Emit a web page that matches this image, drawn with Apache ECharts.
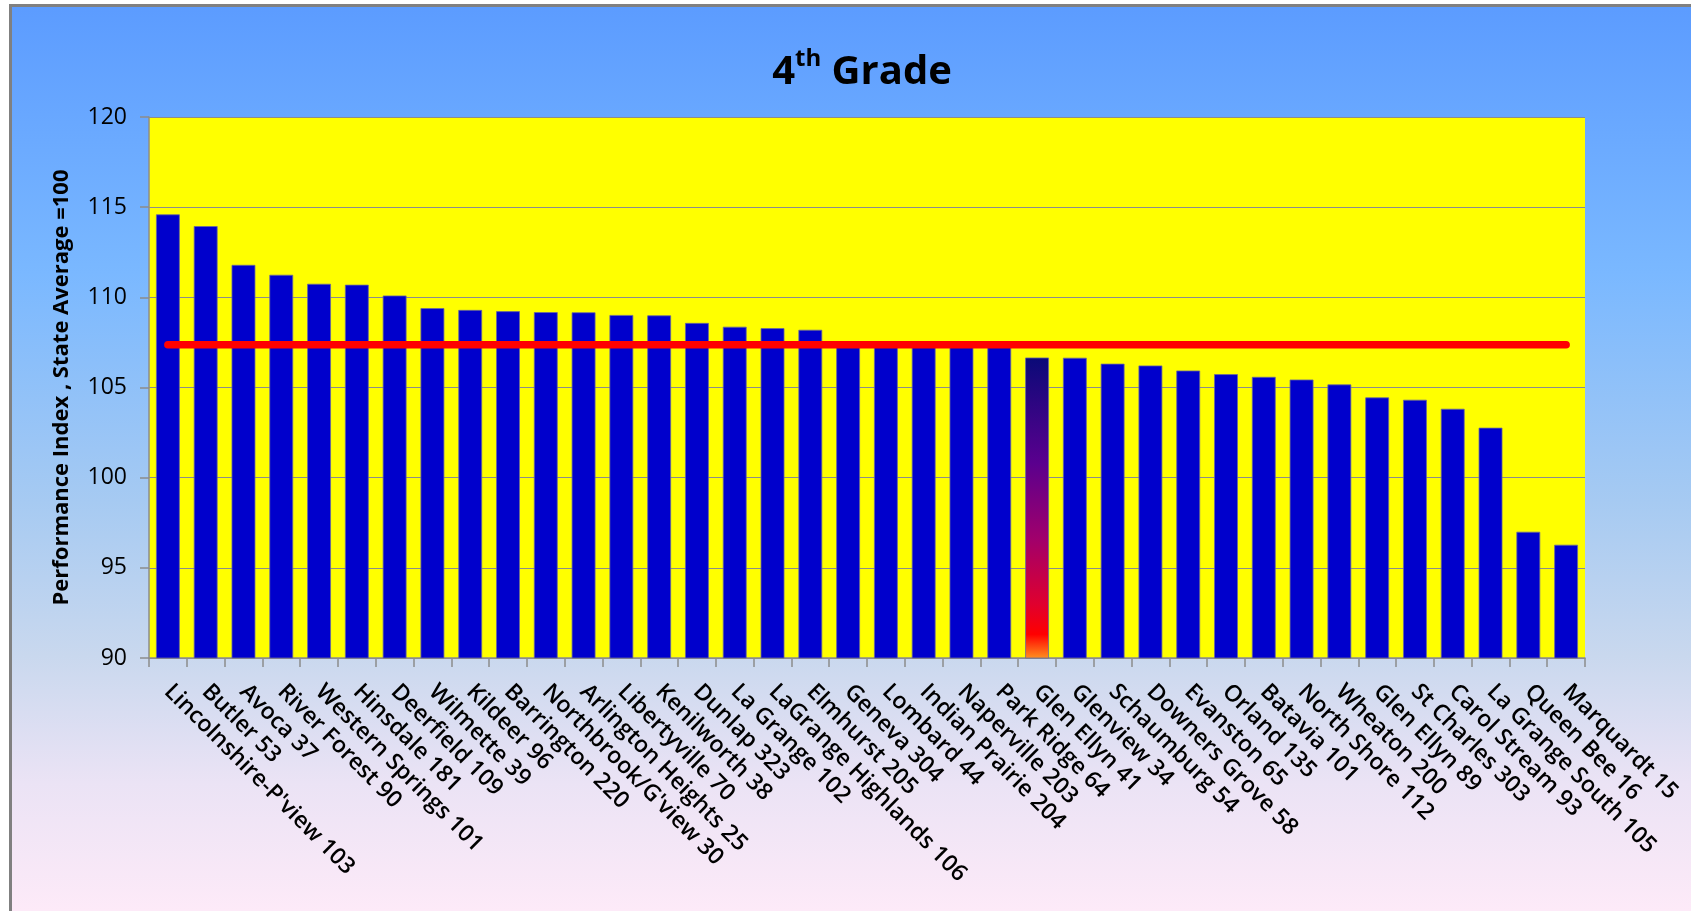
<!DOCTYPE html>
<html>
<head>
<meta charset="utf-8">
<script src="https://cdn.jsdelivr.net/npm/echarts@6/dist/echarts.min.js"></script>
<style>
html,body{margin:0;padding:0;background:#fff;}
#chart{width:1691px;height:911px;}
</style>
</head>
<body>
<div id="chart"></div>
<script>
const titleMain = '4';
const titleSup = 'th';
const titleRest = ' Grade';
const yAxisTitle = 'Performance Index , State Average =100';
const categories = [
  'Lincolnshire-P\'view 103','Butler 53','Avoca 37','River Forest 90','Western Springs 101',
  'Hinsdale 181','Deerfield 109','Wilmette 39','Kildeer 96','Barrington 220',
  'Northbrook/G\'view 30','Arlington Heights 25','Libertyville 70','Kenilworth 38','Dunlap 323',
  'La Grange 102','LaGrange Highlands 106','Elmhurst 205','Geneva 304','Lombard 44',
  'Indian Prairie 204','Naperville 203','Park Ridge 64','Glen Ellyn 41','Glenview 34',
  'Schaumburg 54','Downers Grove 58','Evanston 65','Orland 135','Batavia 101',
  'North Shore 112','Wheaton 200','Glen Ellyn 89','St Charles 303','Carol Stream 93',
  'La Grange South 105','Queen Bee 16','Marquardt 15'
];
const performanceIndex = [
  114.6,113.95,111.8,111.25,110.75,
  110.7,110.1,109.4,109.3,109.23,
  109.18,109.17,109.02,109.0,108.58,
  108.37,108.29,108.2,107.5,107.45,
  107.4,107.35,107.3,106.66,106.65,
  106.32,106.22,105.94,105.74,105.59,
  105.44,105.17,104.45,104.32,103.82,
  102.77,97.0,96.28
];
const averageLine = [
  107.37,107.37,107.37,107.37,107.37,107.37,107.37,107.37,107.37,107.37,
  107.37,107.37,107.37,107.37,107.37,107.37,107.37,107.37,107.37,107.37,
  107.37,107.37,107.37,107.37,107.37,107.37,107.37,107.37,107.37,107.37,
  107.37,107.37,107.37,107.37,107.37,107.37,107.37,107.37
];
const highlightCategory = 'Glen Ellyn 41';
const yTicks = {min: 90, max: 120, interval: 5};

const chart = echarts.init(document.getElementById('chart'), null, {renderer: 'canvas'});
const FONT = 'Open Sans';

const barData = performanceIndex.map((v, i) => {
  if (categories[i] === highlightCategory) {
    return {
      value: v,
      itemStyle: {
        color: new echarts.graphic.LinearGradient(0, 0, 0, 1, [
          {offset: 0, color: '#0a0a78'},
          {offset: 0.35, color: '#5a008e'},
          {offset: 0.6, color: '#a0006c'},
          {offset: 0.82, color: '#e0002e'},
          {offset: 0.92, color: '#ff0000'},
          {offset: 1, color: '#ff9020'}
        ])
      }
    };
  }
  return v;
});

const option = {
  backgroundColor: new echarts.graphic.LinearGradient(0, 0, 0, 1, [
    {offset: 0, color: '#5b9bff'},
    {offset: 0.3, color: '#7ab8ff'},
    {offset: 0.55, color: '#a6caf2'},
    {offset: 0.72, color: '#c9d8ee'},
    {offset: 0.86, color: '#ebe3f5'},
    {offset: 1, color: '#fdeaf8'}
  ]),
  animation: false,
  graphic: [
    {type: 'rect', shape: {x: 0, y: 0, width: 9, height: 911}, style: {fill: '#ffffff'}, z: 100},
    {type: 'rect', shape: {x: 0, y: 0, width: 1691, height: 4}, style: {fill: '#ffffff'}, z: 100},
    {type: 'rect', shape: {x: 9, y: 4, width: 3, height: 907}, style: {fill: '#808080'}, z: 101},
    {type: 'rect', shape: {x: 9, y: 4, width: 1682, height: 3}, style: {fill: '#808080'}, z: 101}
  ],
  title: {
    left: 857,
    top: 38,
    textAlign: 'center',
    text: '{a|' + titleMain + '}{b|' + titleSup + '}{a|' + titleRest + '}',
    textStyle: {
      rich: {
        a: {fontFamily: FONT, fontWeight: 'bold', fontSize: 40, color: '#000', lineHeight: 50, verticalAlign: 'bottom'},
        b: {fontFamily: FONT, fontWeight: 'bold', fontSize: 24, color: '#000', lineHeight: 50, verticalAlign: 'top', padding: [4, 0, 0, 0]}
      }
    }
  },
  grid: {left: 149, right: 106, top: 117, bottom: 253, containLabel: false,
    show: true, backgroundColor: '#ffff00', borderWidth: 0},
  xAxis: {
    type: 'category',
    data: categories,
    axisLine: {lineStyle: {color: '#8c8c8c', width: 1.5}},
    axisTick: {show: true, length: 9, lineStyle: {color: '#8c8c8c', width: 1.5}},
    axisLabel: {rotate: -45, margin: 30, interval: 0, color: '#000', fontFamily: FONT, fontSize: 23, fontWeight: 600}
  },
  yAxis: {
    type: 'value',
    min: yTicks.min, max: yTicks.max, interval: yTicks.interval,
    name: yAxisTitle,
    nameLocation: 'middle',
    nameRotate: 90,
    nameGap: 76,
    nameTextStyle: {fontFamily: FONT, fontWeight: 'bold', fontSize: 22, color: '#000'},
    axisLine: {show: true, lineStyle: {color: '#8c8c8c', width: 1.5}},
    axisTick: {show: true, length: 9, lineStyle: {color: '#8c8c8c', width: 1.5}},
    axisLabel: {margin: 22, color: '#000', fontFamily: FONT, fontSize: 23},
    splitLine: {show: true, lineStyle: {color: '#8c8c8c', width: 1.2}}
  },
  series: [
    {
      type: 'bar',
      data: barData,
      barCategoryGap: '37%',
      itemStyle: {color: '#0000cc', borderColor: '#6a6a9a', borderWidth: 0.8},
      z: 2
    },
    {
      type: 'line',
      data: averageLine,
      symbol: 'none',
      lineStyle: {color: '#ff0000', width: 7.6, cap: 'round'},
      z: 3
    }
  ]
};
chart.setOption(option);
</script>
</body>
</html>
